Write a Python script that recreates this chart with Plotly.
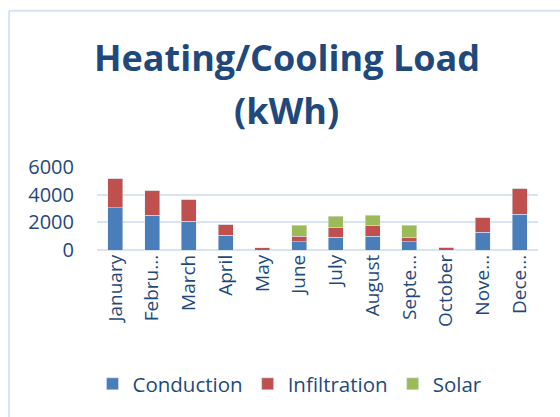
import plotly.graph_objects as go

months = ["January", "February", "March", "April", "May", "June", "July",
          "August", "September", "October", "November", "December"]
tick_labels = ["January", "Febru...", "March", "April", "May", "June", "July",
               "August", "Septe...", "October", "Nove...", "Dece..."]
conduction = [3050, 2520, 2090, 1080, 0, 580, 940, 1000, 580, 0, 1300, 2600]
infiltration = [2150, 1800, 1580, 790, 150, 430, 720, 800, 360, 210, 1080, 1870]
solar = [0, 0, 0, 0, 0, 790, 790, 720, 860, 0, 0, 0]
title_lines = ["Heating/Cooling Load", "(kWh)"]

text_col = "#1F497D"
grid_col = "#D9E4F2"
font_fam = "Open Sans"

fig = go.Figure()
fig.add_bar(x=months, y=conduction, name="Conduction", marker_color="#4A7EBB")
fig.add_bar(x=months, y=infiltration, name="Infiltration", marker_color="#C0504D")
fig.add_bar(x=months, y=solar, name="Solar", marker_color="#9BBB59")

W, H = 560, 417
L, R, T, B = 97, 21.5, 166.7, 167
pw = W - L - R
ph = H - T - B

def px_x(x):
    return (x - L) / pw

def px_y(y):
    return (H - B - y) / ph

fig.update_layout(
    width=W, height=H,
    barmode="stack", bargap=0.59,
    margin=dict(l=L, r=R, t=T, b=B, pad=0, autoexpand=False),
    paper_bgcolor="white", plot_bgcolor="white",
    font=dict(family=font_fam, color=text_col),
    xaxis=dict(categoryorder="array", categoryarray=months,
               tickvals=months, ticktext=tick_labels, tickangle=-90,
               tickfont=dict(size=19, color=text_col), showgrid=False,
               showline=False, ticks="", automargin=False),
    yaxis=dict(range=[0, 6000], tickvals=[0, 2000, 4000, 6000],
               tickfont=dict(size=20, color=text_col), showgrid=True,
               gridcolor=grid_col, gridwidth=2, zeroline=True,
               zerolinecolor=grid_col, zerolinewidth=2, ticklabelstandoff=22,
               automargin=False),
    legend=dict(orientation="h", x=290 / W, xanchor="center",
                xref="container", yref="container",
                y=1 - 364 / H, yanchor="top", font=dict(size=20.5, color=text_col),
                itemwidth=30, traceorder="normal"),
    annotations=[
        dict(text="<b>%s</b>" % title_lines[0], xref="paper", yref="paper",
             x=px_x(287), y=px_y(57), xanchor="center", yanchor="middle",
             showarrow=False, font=dict(size=36, family=font_fam, color=text_col)),
        dict(text="<b>%s</b>" % title_lines[1], xref="paper", yref="paper",
             x=px_x(287), y=px_y(110), xanchor="center", yanchor="middle",
             showarrow=False, font=dict(size=36, family=font_fam, color=text_col)),
    ],
    shapes=[
        dict(type="line", xref="paper", yref="paper", x0=px_x(9), x1=px_x(600),
             y0=px_y(10), y1=px_y(10), line=dict(color=grid_col, width=2)),
        dict(type="line", xref="paper", yref="paper", x0=px_x(9), x1=px_x(9),
             y0=px_y(10), y1=px_y(460), line=dict(color=grid_col, width=2)),
    ],
)

fig.write_html("out.html", config={"displayModeBar": False},
               post_script="document.body.style.margin='0';document.body.style.overflow='hidden';")
